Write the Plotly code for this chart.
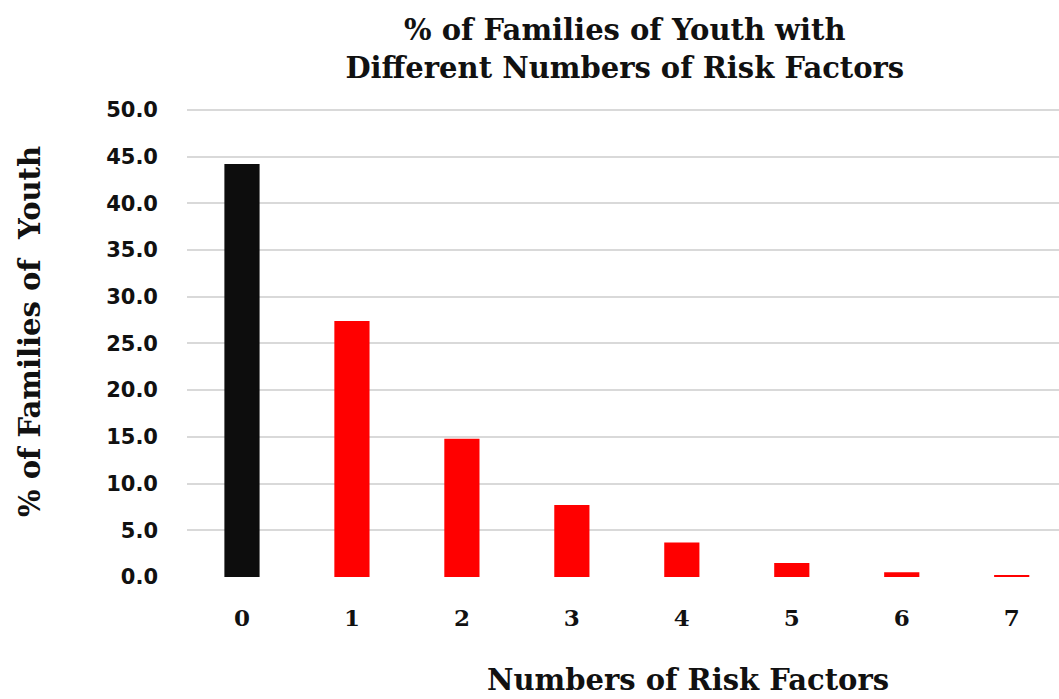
import plotly.graph_objects as go

# Share of families of youth by number of risk factors
risk_factors = ["0", "1", "2", "3", "4", "5", "6", "7"]
pct_families = [44.2, 27.4, 14.8, 7.7, 3.7, 1.5, 0.5, 0.2]
bar_colors = ["#0d0d0d"] + ["#ff0000"] * 7
y_ticks = [0, 5, 10, 15, 20, 25, 30, 35, 40, 45, 50]
y_tick_labels = [f"{v:.1f}" for v in y_ticks]

SLAB = "DejaVu Serif"
SANS = "DejaVu Sans"

PLOT_L, PLOT_T, PLOT_B = 187, 107, 577

fig = go.Figure(
    go.Bar(
        x=list(range(len(risk_factors))),
        y=pct_families,
        marker=dict(color=bar_colors, line=dict(width=0)),
        width=0.32,
        hoverinfo="skip",
    )
)

fig.update_layout(
    width=1059,
    height=699,
    margin=dict(l=PLOT_L, r=0, t=PLOT_T, b=699 - PLOT_B),
    paper_bgcolor="white",
    plot_bgcolor="white",
    showlegend=False,
    title=dict(
        text="% of Families of Youth with<br>Different Numbers of Risk Factors",
        font=dict(family=SLAB, size=29, color="#111111", weight="bold"),
        x=0.59,
        xanchor="center",
        y=1 - 40 / 699,
        yanchor="middle",
        yref="container",
    ),
    xaxis=dict(
        tickmode="array",
        tickvals=list(range(len(risk_factors))),
        ticktext=risk_factors,
        range=[-0.5, 7.43],
        showgrid=False,
        zeroline=False,
        showline=False,
        ticks="",
        ticklabelstandoff=25,
        tickfont=dict(family=SLAB, size=23, color="#111111", weight="bold"),
    ),
    yaxis=dict(
        range=[0, 50.3],
        tickmode="array",
        tickvals=y_ticks,
        ticktext=y_tick_labels,
        showgrid=True,
        gridcolor="#d9d9d9",
        gridwidth=2,
        zeroline=False,
        showline=False,
        ticks="",
        ticklabelstandoff=28,
        tickfont=dict(family=SANS, size=21, color="#111111", weight="bold"),
    ),
    annotations=[
        dict(
            text="Numbers of Risk Factors",
            xref="paper",
            yref="paper",
            x=(688 - PLOT_L) / (1059 - PLOT_L),
            y=-(680 - PLOT_B) / (PLOT_B - PLOT_T),
            xanchor="center",
            yanchor="middle",
            showarrow=False,
            font=dict(family=SLAB, size=29, color="#111111", weight="bold"),
        ),
        dict(
            text="% of Families of  Youth",
            xref="paper",
            yref="paper",
            x=-(PLOT_L - 30) / (1059 - PLOT_L),
            y=(PLOT_B - 332) / (PLOT_B - PLOT_T),
            xanchor="center",
            yanchor="middle",
            textangle=-90,
            showarrow=False,
            font=dict(family=SLAB, size=29, color="#111111", weight="bold"),
        ),
    ],
)

fig.write_html("out.html")
